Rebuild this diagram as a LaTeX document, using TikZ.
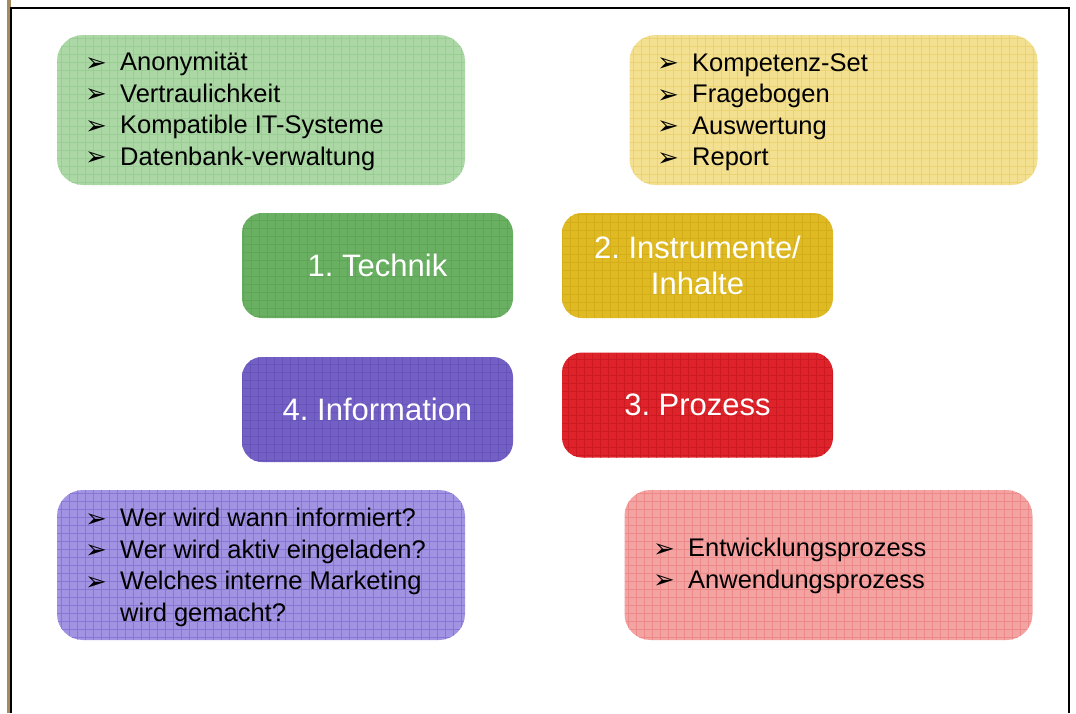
\documentclass[tikz,border=0pt]{standalone}
\usepackage{fontspec}
\setmainfont{Liberation Sans}
\newfontfamily\dingfont{DejaVu Sans}
\frenchspacing
\newcommand\bul{\makebox[32pt][l]{\hspace*{-3pt}\dingfont\fontsize{26}{26}\selectfont\raisebox{-0.5pt}{➢}}}
\newcommand\nobul{\makebox[32pt][l]{}}

\definecolor{lgreen}{RGB}{172,216,166}
\definecolor{lgreenG}{RGB}{154,205,148}
\definecolor{lyellow}{RGB}{243,224,145}
\definecolor{lyellowG}{RGB}{235,210,114}
\definecolor{lpurple}{RGB}{162,148,226}
\definecolor{lpurpleG}{RGB}{136,118,212}
\definecolor{lpink}{RGB}{243,164,162}
\definecolor{lpinkG}{RGB}{235,138,136}
\definecolor{dgreen}{RGB}{106,176,98}
\definecolor{dgreenG}{RGB}{95,165,87}
\definecolor{dgold}{RGB}{223,186,34}
\definecolor{dgoldG}{RGB}{211,174,26}
\definecolor{dpurple}{RGB}{116,96,196}
\definecolor{dpurpleG}{RGB}{102,84,187}
\definecolor{dred}{RGB}{222,36,42}
\definecolor{dredG}{RGB}{205,26,34}
\definecolor{frametan}{RGB}{164,138,92}

\tikzset{
  tile/.style 2 args={fill=#1, draw=none,
    path picture={\draw[#2, line width=0.5pt]
      (path picture bounding box.south west) grid[step=8pt]
      (path picture bounding box.north east);}},
  notebox/.style={rounded corners=26pt, minimum width=408pt, minimum height=150pt, inner sep=0pt},
  headbox/.style={rounded corners=20pt, minimum width=271pt, minimum height=105pt,
    inner sep=0pt, text=white, align=center, font=\fontsize{31}{36}\selectfont},
  listtext/.style={anchor=north west, inner sep=0pt, align=left,
    font=\fontsize{25.5}{31.5}\selectfont, text=black},
}

\begin{document}
\begin{tikzpicture}[x=1pt, y=-1pt]
  \useasboundingbox (0,0) rectangle (1076,713);
  \fill[white] (0,0) rectangle (1076,713);

  % page frame
  \fill[frametan] (7,0) rectangle (10.5,713);
  \draw[black, line width=2pt] (11,713) -- (11,8) -- (1069,8) -- (1069,713);

  % note boxes
  \node[notebox, tile={lgreen}{lgreenG}] (technotes) at (261,110) {};
  \node[notebox, tile={lyellow}{lyellowG}] (instnotes) at (833.5,110) {};
  \node[notebox, tile={lpurple}{lpurpleG}] (infonotes) at (261,565) {};
  \node[notebox, tile={lpink}{lpinkG}] (procnotes) at (828.5,565) {};

  % headline boxes
  \node[headbox, tile={dgreen}{dgreenG}] (technik) at (377.5,265.5) {1. Technik};
  \node[headbox, tile={dgold}{dgoldG}] (instrumente) at (697.5,265.5) {2. Instrumente/\\Inhalte};
  \node[headbox, tile={dpurple}{dpurpleG}] (information) at (377.5,409.5) {4. Information};
  \node[headbox, tile={dred}{dredG}] (prozess) at (697.5,405) {3. Prozess};

  % lists
  \node[listtext] (techlist) at (88,52) {\bul Anonymität\\\bul Vertraulichkeit\\\bul Kompatible IT-Systeme\\\bul Datenbank-verwaltung};
  \node[listtext] (instlist) at (660,53) {\bul Kompetenz-Set\\\bul Fragebogen\\\bul Auswertung\\\bul Report};
  \node[listtext] (infolist) at (88,508) {\bul Wer wird wann informiert?\\\bul Wer wird aktiv eingeladen?\\\bul Welches interne Marketing\\\nobul wird gemacht?};
  \node[listtext] (proclist) at (656,538) {\bul Entwicklungsprozess\\\bul Anwendungsprozess};
\end{tikzpicture}
\end{document}
